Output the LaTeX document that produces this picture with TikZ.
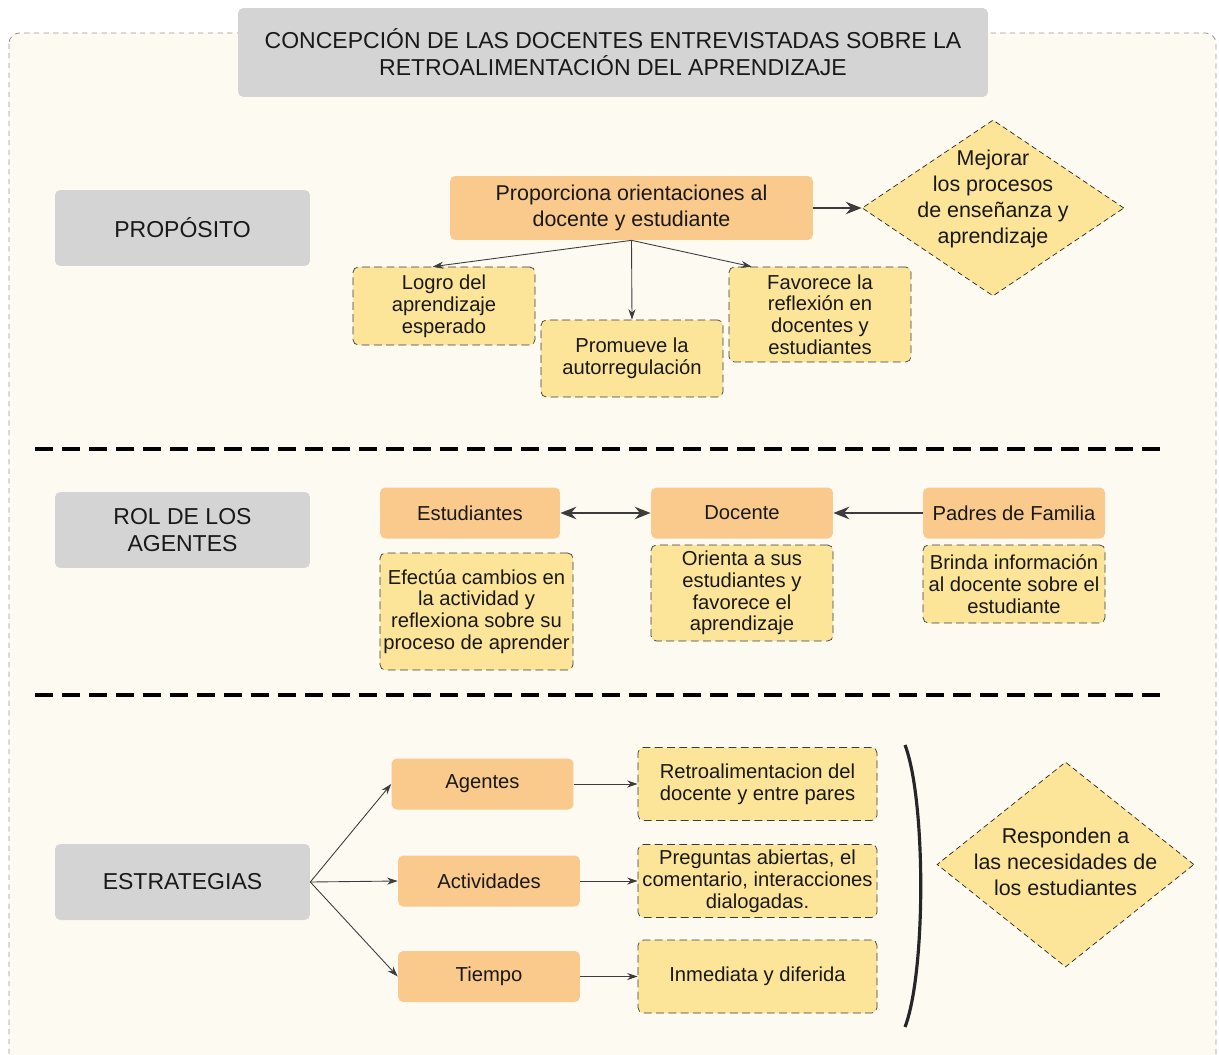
\documentclass[tikz,border=0pt]{standalone}
\usepackage{fontspec}
\setmainfont{Liberation Sans}
\usetikzlibrary{shapes.geometric,arrows.meta}
\definecolor{crema}{RGB}{253,250,242}
\definecolor{gris}{RGB}{212,212,212}
\definecolor{naranja}{RGB}{250,201,140}
\definecolor{amarillo}{RGB}{252,228,152}
\definecolor{trazo}{RGB}{60,60,60}
\begin{document}
\begin{tikzpicture}[x=0.02cm, y=-0.02cm,
    font=\fontsize{11.5}{12.4}\selectfont, text=black!90,
    etiqueta/.style={fill=gris, rounded corners=3pt, minimum width=5.1cm, minimum height=1.52cm,
      align=center, font=\fontsize{13.1}{15.6}\selectfont},
    caja/.style={fill=naranja, rounded corners=3pt, minimum width=3.64cm, minimum height=1.02cm, align=center},
    nota/.style={fill=amarillo, draw=trazo, dash pattern=on 4.5pt off 2.5pt, rounded corners=3pt,
      minimum width=3.64cm, align=center, inner sep=1pt},
    meta/.style={diamond, fill=amarillo, draw=black!85, dash pattern=on 3pt off 2pt, inner sep=0pt},
    grande/.style={align=center, font=\fontsize{12.2}{14.8}\selectfont},
    flecha/.style={-{Stealth[length=6pt,width=4pt]}, trazo, line width=0.5pt},
    gruesa/.style={-{Stealth[length=9pt,width=7pt]}, trazo, line width=1.7pt},
    corte/.style={line width=2.8pt, dash pattern=on 0.36cm off 0.18cm}]

    % Fondo y marco punteado
    \clip (0,0) rectangle (1219,1054);
    \fill[white] (0,0) rectangle (1219,1054);
    \draw[gray!80, dash pattern=on 3pt off 2.5pt, line width=0.5pt, fill=crema, rounded corners=6pt] (9,33) rectangle (1216,1100);

    % Titulo
    \node[etiqueta, minimum width=15cm, minimum height=1.78cm, font=\fontsize{13.1}{15.4}\selectfont] (titulo) at (613,52.5)
      {CONCEPCIÓN DE LAS DOCENTES ENTREVISTADAS SOBRE LA\\RETROALIMENTACIÓN DEL APRENDIZAJE};

    % Proposito
    \node[etiqueta] (proposito) at (182.5,228) {PROPÓSITO};
    \node[caja, grande, minimum width=7.26cm, minimum height=1.28cm] (orienta) at (631.5,208)
      {Proporciona orientaciones al\\docente y estudiante};
    \node[meta, minimum width=5.24cm, minimum height=3.52cm] (mejora) at (993,208) {};
    \node[grande, yshift=0.18cm] (mejoratxt) at (mejora) {Mejorar\\los procesos\\de enseñanza y\\aprendizaje};
    \node[nota, minimum height=1.56cm] (logro) at (444,306) {Logro del\\aprendizaje\\esperado};
    \node[nota, minimum height=1.54cm] (promueve) at (632,358.5) {Promueve la\\autorregulación};
    \node[nota, minimum height=1.9cm] (favorece) at (820,314.5) {Favorece la\\reflexión en\\docentes y\\estudiantes};

    \draw[gruesa] (orienta.east) -- (mejora.west);
    \draw[flecha] (orienta.south) -- (logro.106);
    \draw[flecha] (orienta.south) -- (promueve.north);
    \draw[flecha] (orienta.south) -- (favorece.145);

    \draw[corte] (35,449) -- (1160,449);

    % Rol de los agentes
    \node[etiqueta] (rol) at (182.5,530) {ROL DE LOS\\AGENTES};
    \node[caja, minimum width=3.6cm] (estudiantes) at (470,513) {Estudiantes};
    \node[caja] (docente) at (742,513) {Docente};
    \node[caja] (padres) at (1014,513) {Padres de Familia};
    \node[nota, minimum width=3.86cm, minimum height=2.34cm] (efectua) at (476.5,611.5)
      {Efectúa cambios en\\la actividad y\\reflexiona sobre su\\proceso de aprender};
    \node[nota, minimum height=1.92cm] (guia) at (742,593) {Orienta a sus\\estudiantes y\\favorece el\\aprendizaje};
    \node[nota, minimum height=1.56cm] (brinda) at (1014,584) {Brinda información\\al docente sobre el\\estudiante};

    \draw[gruesa, {Stealth[length=9pt,width=7pt]}-{Stealth[length=9pt,width=7pt]}] (estudiantes.east) -- (docente.west);
    \draw[gruesa] (padres.west) -- (docente.east);

    \draw[corte] (35,695) -- (1160,695);

    % Estrategias
    \node[etiqueta] (estrategias) at (182.5,882) {ESTRATEGIAS};
    \node[caja] (agentes) at (482.5,784) {Agentes};
    \node[caja] (actividades) at (489,881) {Actividades};
    \node[caja] (tiempo) at (489,976.5) {Tiempo};
    \node[nota, minimum width=4.78cm, minimum height=1.46cm] (pares) at (757.5,784)
      {Retroalimentacion del\\docente y entre pares};
    \node[nota, minimum width=4.78cm, minimum height=1.46cm] (preguntas) at (757.5,881)
      {Preguntas abiertas, el\\comentario, interacciones\\dialogadas.};
    \node[nota, minimum width=4.78cm, minimum height=1.46cm] (diferida) at (757.5,976.5)
      {Inmediata y diferida};
    \node[meta, minimum width=5.14cm, minimum height=4.1cm] (responden) at (1065.5,864.5) {};
    \node[grande, yshift=0.06cm] (respondentxt) at (responden) {Responden a\\las necesidades de\\los estudiantes};

    \draw[flecha] (estrategias.east) -- (agentes.west);
    \draw[flecha] (estrategias.east) -- (actividades.west);
    \draw[flecha] (estrategias.east) -- (tiempo.west);
    \draw[flecha] (agentes.east) -- (pares.west);
    \draw[flecha] (actividades.east) -- (preguntas.west);
    \draw[flecha] (tiempo.east) -- (diferida.west);

    % Llave de cierre
    \draw[line width=1.8pt, black!85] (905,745) .. controls (926,800) and (926,972) .. (905,1027);
\end{tikzpicture}
\end{document}
